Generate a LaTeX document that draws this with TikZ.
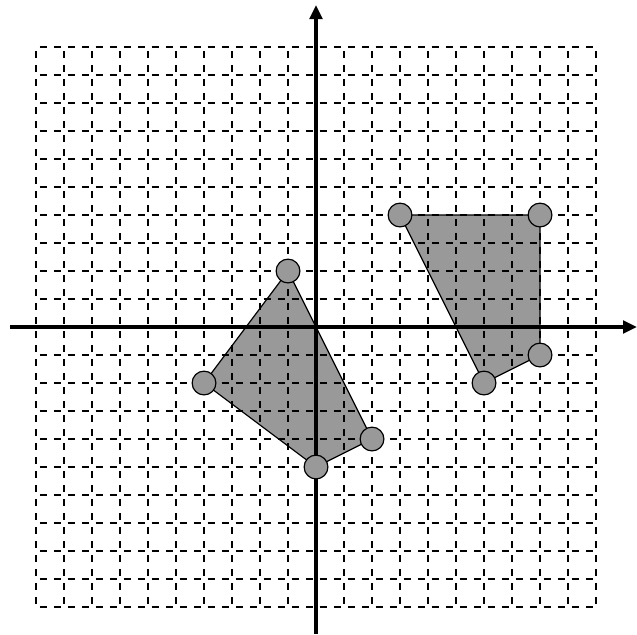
\documentclass[tikz,border=0pt]{standalone}
\usetikzlibrary{arrows.meta}
\definecolor{shade}{RGB}{153,153,153}
\tikzset{
  gridline/.style={line width=1.1pt, dash pattern=on 0.25cm off 0.25cm, dash phase=0.375cm},
  axis/.style={line width=3.4pt, -{Triangle[length=0.5cm,width=0.45cm]}},
  poly/.style={fill=shade},
  polyedge/.style={line width=1.2pt, line join=round},
  dot/.style={circle, draw=black, fill=shade, line width=1.2pt, minimum size=0.85cm, inner sep=0pt}
}
\begin{document}
\begin{tikzpicture}[x=1cm,y=1cm]
\useasboundingbox (-11.286,-10.964) rectangle (11.464,11.679);
% vertices
\coordinate (a1) at (-1,2);
\coordinate (a2) at (-4,-2);
\coordinate (a3) at (0,-5);
\coordinate (a4) at (2,-4);
\coordinate (b1) at (3,4);
\coordinate (b2) at (8,4);
\coordinate (b3) at (8,-1);
\coordinate (b4) at (6,-2);
% fills
\fill[poly] (a1) -- (a2) -- (a3) -- (a4) -- cycle;
\fill[poly] (b1) -- (b2) -- (b3) -- (b4) -- cycle;
% grid
\foreach \i in {-10,...,10} {
  \draw[gridline] (\i,-10) -- (\i,10);
  \draw[gridline] (-10,\i) -- (10,\i);
}
% axes
\coordinate (xs) at (-10.93,0);
\coordinate (xe) at (11.464,0);
\coordinate (ys) at (0,-10.964);
\coordinate (ye) at (0,11.5);
\draw[axis] (xs) -- (xe);
\draw[axis] (ys) -- (ye);
% outlines
\draw[polyedge] (a1) -- (a2) -- (a3) -- (a4) -- cycle;
\draw[polyedge] (b1) -- (b2) -- (b3) -- (b4) -- cycle;
% dots
\foreach \n in {a1,a2,a3,a4,b1,b2,b3,b4} {
  \node[dot] (d\n) at (\n) {};
}
\end{tikzpicture}
\end{document}
